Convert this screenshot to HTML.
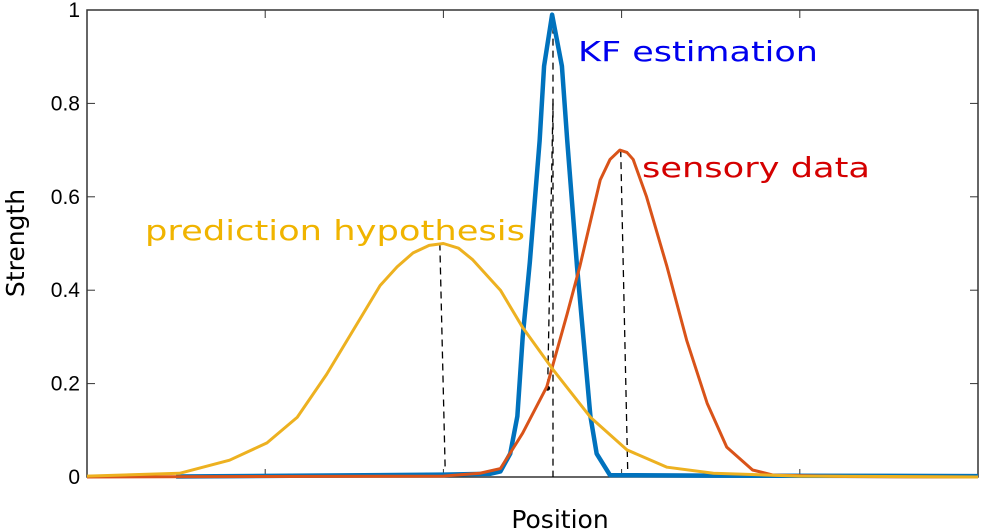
<!DOCTYPE html>
<html><head><meta charset="utf-8"><style>
body{margin:0;background:#fff;}
svg{display:block;font-family:"DejaVu Sans","Liberation Sans",sans-serif;}
</style></head><body>
<svg id="chart" width="982" height="532" viewBox="0 0 982 532" xmlns="http://www.w3.org/2000/svg">
<rect x="0" y="0" width="982" height="532" fill="#fff"/>
<g id="ticks"></g>
<rect x="87" y="10" width="891" height="467" fill="none" stroke="#333" stroke-width="1.5"/>
<g id="yticklabels" font-family="Liberation Sans Narrow, Liberation Sans, sans-serif" font-size="21" fill="#000" text-anchor="end"></g>
<g id="guides"></g>
<g id="series"></g>
<text transform="translate(24,243) rotate(-90)" text-anchor="middle" font-size="25" fill="#000">Strength</text>
<text x="560" y="528" text-anchor="middle" font-size="25" fill="#000">Position</text>
<text x="578" y="61" font-size="28" fill="#0000ee" textLength="240" lengthAdjust="spacingAndGlyphs">KF estimation</text>
<text x="642" y="177" font-size="28" fill="#d40000" textLength="228" lengthAdjust="spacingAndGlyphs">sensory data</text>
<text x="145" y="240" font-size="28" fill="#f0b400" textLength="380" lengthAdjust="spacingAndGlyphs">prediction hypothesis</text>
</svg>
<script>
const yTicks=[0,0.2,0.4,0.6,0.8,1];
const yTickLabels=["0","0.2","0.4","0.6","0.8","1"];
const xTicks=[20,40,60,80];
const predX=[0,10.4,16,20.2,23.6,26.9,29.9,32.9,34.8,36.6,38.4,40,41.7,43.3,46.4,48.9,52.3,56.5,60.6,65.1,70.3,80,100];
const predY=[0.002,0.008,0.036,0.073,0.128,0.22,0.315,0.41,0.45,0.48,0.496,0.5,0.49,0.465,0.40,0.32,0.23,0.128,0.058,0.021,0.008,0.002,0];
const sensX=[0,20,40,44.1,46.4,48.9,51.6,53.9,55.3,57.6,58.7,59.8,60.6,61.3,62.8,65.1,67.3,69.6,71.8,74.7,77,85,100];
const sensY=[0,0.001,0.002,0.008,0.018,0.094,0.193,0.35,0.45,0.636,0.68,0.70,0.695,0.68,0.60,0.45,0.293,0.158,0.064,0.015,0.004,0.001,0];
const kfX=[10,40,45.3,46.4,47.5,48.3,48.9,49.7,50.8,51.3,52.2,53.3,53.9,55,56.5,57.2,58.7,70,100];
const kfY=[0.001,0.005,0.007,0.012,0.05,0.13,0.30,0.46,0.72,0.88,0.99,0.88,0.72,0.45,0.13,0.05,0.004,0.003,0.002];
const guideStart=[[39.6,0.5],[52.3,0.99],[59.9,0.7],[52.3,0.8]];
const guideEnd=[[40.2,0.015],[52.3,0],[60.7,0],[51.7,0.19]];
const NS="http://www.w3.org/2000/svg";
const X=v=>87+v*8.91, Y=v=>477-v*467;
function mk(tag,parent){const e=document.createElementNS(NS,tag);document.getElementById(parent).appendChild(e);return e;}
yTicks.forEach((t,i)=>{
 const a=mk('line','ticks');a.setAttribute('x1',87);a.setAttribute('x2',95);a.setAttribute('y1',Y(t));a.setAttribute('y2',Y(t));a.setAttribute('stroke','#333');
 
 
 const b=mk('line','ticks');b.setAttribute('x1',970);b.setAttribute('x2',978);b.setAttribute('y1',Y(t));b.setAttribute('y2',Y(t));b.setAttribute('stroke','#333');
 
 
 const l=mk('text','yticklabels');l.setAttribute('x',80);l.setAttribute('y',Y(t)+7);l.textContent=yTickLabels[i];
 
 
});
xTicks.forEach(t=>{
 const a=mk('line','ticks');a.setAttribute('x1',X(t));a.setAttribute('x2',X(t));a.setAttribute('y1',469);a.setAttribute('y2',477);a.setAttribute('stroke','#333');
 
 
 const b=mk('line','ticks');b.setAttribute('x1',X(t));b.setAttribute('x2',X(t));b.setAttribute('y1',10);b.setAttribute('y2',18);b.setAttribute('stroke','#333');
 
 
});
guideStart.forEach((s,i)=>{
 const e=guideEnd[i];const g=mk('line','guides');
 g.setAttribute('x1',X(s[0]));g.setAttribute('y1',Y(s[1]));g.setAttribute('x2',X(e[0]));g.setAttribute('y2',Y(e[1]));
 g.setAttribute('stroke','#000');g.setAttribute('stroke-width','1.3');g.setAttribute('stroke-dasharray','7,5');
 
 
});
const dot=mk('circle','guides');
dot.setAttribute('cx',X(guideEnd[3][0]));dot.setAttribute('cy',Y(guideEnd[3][1]));dot.setAttribute('r',2.5);dot.setAttribute('fill','#000');


function series(xs,ys,color,w,name){
 const p=mk('polyline','series');
 p.setAttribute('points',xs.map((x,i)=>X(x)+','+Y(ys[i])).join(' '));
 p.setAttribute('fill','none');p.setAttribute('stroke',color);p.setAttribute('stroke-width',w);p.setAttribute('stroke-linejoin','round');
 
 
}
series(kfX,kfY,'#0072bd',4.5,'kf-estimation-line');
series(sensX,sensY,'#d95319',3,'sensory-data-line');
series(predX,predY,'#edb120',3,'prediction-hypothesis-line');
</script>
</body></html>
